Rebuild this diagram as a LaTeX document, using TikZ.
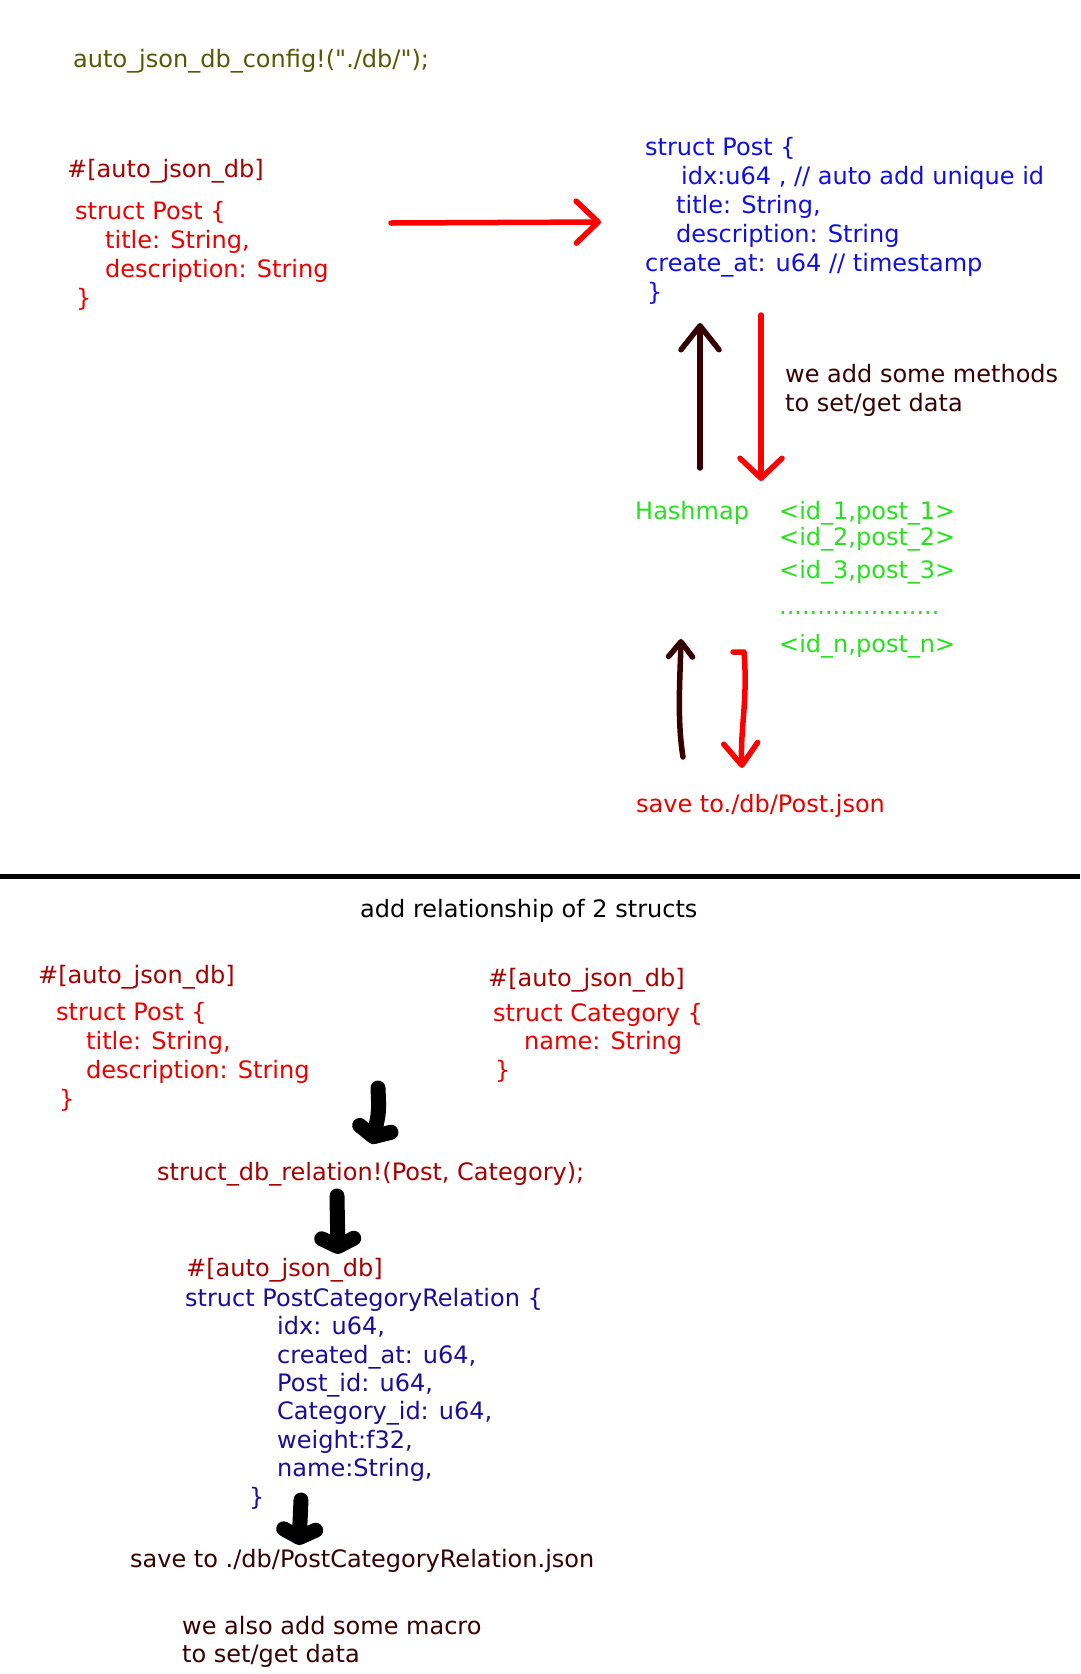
\documentclass[tikz,border=0pt]{standalone}
\usepackage{fontspec}
\setmainfont{DejaVu Sans}
\usetikzlibrary{arrows.meta,positioning}

\definecolor{cfgolive}{RGB}{85,90,0}
\definecolor{attrred}{RGB}{165,0,0}
\definecolor{postred}{RGB}{235,0,0}
\definecolor{penred}{RGB}{255,0,0}
\definecolor{postblue}{RGB}{15,15,225}
\definecolor{notebrown}{RGB}{55,0,0}
\definecolor{mapgreen}{RGB}{40,225,30}
\definecolor{relnavy}{RGB}{25,15,150}

% multi-line nodes sit on the baseline of their last line
\tikzset{
  code/.style={inner sep=0pt, anchor=base west, align=left,
    font=\fontsize{24}{29}\selectfont},
  pen/.style={line width=5.5pt, line cap=round, line join=round},
  blob/.style={line width=15pt, line cap=round, line join=round,
    -{Straight Barb[length=8pt,width=32pt,round]}},
}

\begin{document}
\begin{tikzpicture}[x=1pt,y=-1pt]
\useasboundingbox[fill=white] (0,0) rectangle (1080,1674);

% top part
\node[code, cfgolive] (cfg) at (73,67) {auto\_json\_db\_config!(\textquotedbl./db/\textquotedbl);};
\node[code, attrred] (attrA) at (67,177) {\#[auto\_json\_db]};
\node[code, postred] (postA) at (75,306) {struct Post \{\\
  \hspace*{30pt}title: String,\\
  \hspace*{30pt}description: String\\
  \hspace*{1pt}\}};
\node[code, postblue] (postB) at (645,300) {struct Post \{\\
  \hspace*{36pt}idx:u64 , // auto add unique id\\
  \hspace*{31pt}title: String,\\
  \hspace*{31pt}description: String\\
  create\_at: u64 // timestamp\\
  \hspace*{2pt}\}};
\node[code, notebrown] (noteA) at (785,411) {we add some methods\\to set/get data};

\node[code, mapgreen] (hmap) at (635,519) {Hashmap};
\node[code, mapgreen] (ent1) at (779,519) {<id\_1,post\_1>};
\node[code, mapgreen] (ent2) at (779,545) {<id\_2,post\_2>};
\node[code, mapgreen] (ent3) at (779,578) {<id\_3,post\_3>};
\node[code, mapgreen] (entd) at (779,614) {.....................};
\node[code, mapgreen] (entn) at (779,652) {<id\_n,post\_n>};
\node[code, postred] (saveA) at (636,812) {save to./db/Post.json};

\coordinate (genL) at (391,223);
\coordinate (genR) at (601,222);
\coordinate (getB) at (700,468);
\coordinate (getT) at (700,323);
\coordinate (setT) at (761,315);
\coordinate (setB) at (761,481);
\coordinate (loadB) at (683,757);
\coordinate (loadT) at (681,639);
\coordinate (dumpT) at (733,652);
\coordinate (dumpB) at (742,768);

\draw[pen, penred, -{Straight Barb[length=22pt,width=42pt,round]}] (genL) -- (genR);
\draw[pen, notebrown, -{Straight Barb[length=24pt,width=38pt,round]}] (getB) -- (getT);
\draw[pen, penred, -{Straight Barb[length=20pt,width=42pt,round]}] (setT) -- (setB);
\draw[pen, notebrown, -{Straight Barb[length=15pt,width=24pt,round]}]
  (loadB) .. controls (677,720) and (680,680) .. (loadT);
\draw[pen, penred, -{Straight Barb[length=22pt,width=34pt,round]}]
  (dumpT) -- ++(11,0) .. controls (748,700) and (740,730) .. (dumpB);

% separator
\draw[line width=5pt] (0,876) -- (1080,876);

% bottom part
\node[code] (relTitle) at (360,917) {add relationship of 2 structs};
\node[code, attrred] (attrB) at (38,983) {\#[auto\_json\_db]};
\node[code, postred, font=\fontsize{24}{28.7}\selectfont] (postC) at (56,1107) {struct Post \{\\
  \hspace*{30pt}title: String,\\
  \hspace*{30pt}description: String\\
  \hspace*{3pt}\}};
\node[code, attrred] (attrC) at (488,986) {\#[auto\_json\_db]};
\node[code, postred, font=\fontsize{24}{28.5}\selectfont] (cat) at (493,1078) {struct Category \{\\
  \hspace*{31pt}name: String\\
  \hspace*{2pt}\}};
\node[code, attrred] (relMacro) at (157,1180) {struct\_db\_relation!(Post, Category);};
\node[code, attrred] (attrD) at (186,1276) {\#[auto\_json\_db]};
\node[code, relnavy, font=\fontsize{24}{28.4}\selectfont] (rel) at (185,1505)
  {struct PostCategoryRelation \{\\
  \hspace*{92pt}idx: u64,\\
  \hspace*{92pt}created\_at: u64,\\
  \hspace*{92pt}Post\_id: u64,\\
  \hspace*{92pt}Category\_id: u64,\\
  \hspace*{92pt}weight:f32,\\
  \hspace*{92pt}name:String,\\
  \hspace*{64pt}\}};
\node[code, notebrown] (saveB) at (130,1567) {save to ./db/PostCategoryRelation.json};
\node[code, notebrown, font=\fontsize{24}{28}\selectfont] (noteB) at (182,1662)
  {we also add some macro\\to set/get data};

\coordinate (mixT) at (378,1088);
\coordinate (mixB) at (372,1144);
\coordinate (genT) at (337,1196);
\coordinate (genD) at (338,1254);
\coordinate (outT) at (301,1500);
\coordinate (outB) at (299,1545);

\draw[blob] (mixT) .. controls (379,1112) .. (mixB);
\draw[blob] (genT) -- (genD);
\draw[blob] (outT) -- (outB);
\end{tikzpicture}
\end{document}
